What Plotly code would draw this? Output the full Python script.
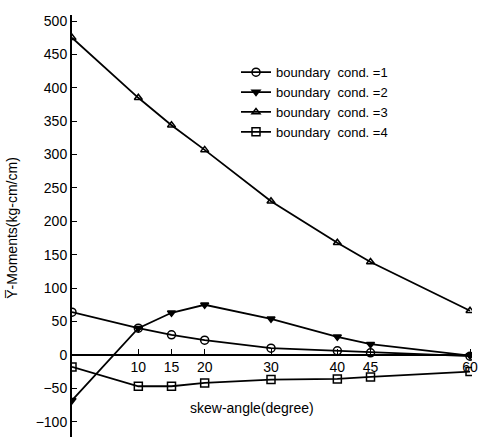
import plotly.graph_objects as go

angles = [0, 10, 15, 20, 30, 40, 45, 60]
cond1 = [64, 40, 30, 22, 10, 6, 3, -2]
cond2 = [-68, 40, 63, 75, 54, 27, 16, -1]
cond3 = [475, 385, 344, 307, 230, 168, 139, 66]
cond4 = [-18, -47, -47, -42, -37, -36, -33, -25]
names = ["boundary  cond. =1", "boundary  cond. =2", "boundary  cond. =3", "boundary  cond. =4"]
x_ticks = [10, 15, 20, 30, 40, 45, 60]
y_ticks = list(range(-100, 501, 50))

YMIN, YMAX = -123, 509
FONT = "Liberation Sans, Arial, sans-serif"

fig = go.Figure()
specs = [
    (cond1, "circle-open", 8),
    (cond2, "triangle-down", 7),
    (cond3, "triangle-up-open", 7),
    (cond4, "square-open", 8),
]
for (vals, sym, sz), nm in zip(specs, names):
    fig.add_trace(go.Scatter(
        x=angles, y=vals, mode="lines+markers", name=nm,
        line=dict(color="black", width=1.8),
        marker=dict(symbol=sym, size=sz, color="black",
                    line=dict(color="black", width=1.5)),
    ))

fig.update_layout(
    width=481, height=437,
    margin=dict(l=72, r=9, t=15, b=0),
    paper_bgcolor="white", plot_bgcolor="white",
    font=dict(family=FONT, size=14, color="black"),
    showlegend=True,
    legend=dict(x=0.41, y=0.9, xanchor="left", yanchor="top",
                bgcolor="rgba(0,0,0,0)", font=dict(size=13),
                tracegroupgap=0),
    xaxis=dict(range=[0, 60.3], tickvals=x_ticks, ticks="inside", ticklen=5,
               tickcolor="black", showline=True, linecolor="black", linewidth=1.5,
               showgrid=False, zeroline=False, anchor="free",
               position=(0 - YMIN) / (YMAX - YMIN), tickfont=dict(size=14)),
    yaxis=dict(range=[YMIN, YMAX], tickvals=y_ticks, ticks="inside", ticklen=5,
               tickcolor="black", showline=True, linecolor="black", linewidth=2,
               showgrid=False, zeroline=False, tickfont=dict(size=14)),
    annotations=[
        dict(text="skew-angle(degree)", xref="paper", yref="paper",
             x=0.45, y=0.0687, xanchor="center", yanchor="middle",
             showarrow=False, font=dict(size=14)),
        dict(text="Y\u0305-Moments(kg-cm/cm)", xref="paper", yref="paper",
             x=-0.15, y=0.495, xanchor="center", yanchor="middle",
             textangle=-90, showarrow=False, font=dict(size=14)),
    ],
)

fig.write_html("out.html")
